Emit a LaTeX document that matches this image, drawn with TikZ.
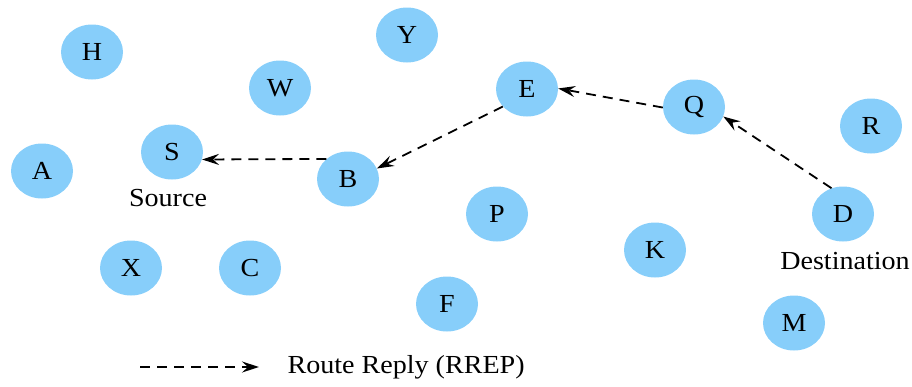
\documentclass[tikz,border=0pt]{standalone}
\usepackage{fontspec}
\setmainfont{Liberation Serif}[FakeStretch=1.08]
\usepackage{xcolor}
\usetikzlibrary{shapes.geometric,arrows.meta}
\definecolor{hostblue}{RGB}{135,206,250}

\begin{document}
\begin{tikzpicture}[x=1pt, y=-1pt,
    host/.style={ellipse, fill=hostblue, minimum width=62pt, minimum height=55pt, inner sep=0pt, font=\fontsize{26}{30}\selectfont},
    rrep/.style={line width=1.8pt, dash pattern=on 10pt off 7pt, -{Stealth[length=17pt, width=11pt, inset=6pt]}},
    lbl/.style={font=\fontsize{26}{30}\selectfont}]
\useasboundingbox (0,0) rectangle (912,386);

% Mobile hosts
\node[host] (H) at (92,52) {H};
\node[host] (Y) at (407,35) {Y};
\node[host] (W) at (280,88) {W};
\node[host] (E) at (527,89) {E};
\node[host] (Q) at (694,107) {Q};
\node[host] (R) at (871,126) {R};
\node[host] (A) at (42,171) {A};
\node[host] (S) at (172,152) {S};
\node[host] (B) at (348,179) {B};
\node[host] (P) at (497,214) {P};
\node[host] (D) at (843,214) {D};
\node[host] (X) at (131,268) {X};
\node[host] (C) at (250,268) {C};
\node[host] (K) at (655,250) {K};
\node[host] (F) at (447,304) {F};
\node[host] (M) at (794,323) {M};

% Source and destination labels
\node[lbl] (srclbl) at (168,198) {Source};
\node[lbl] (dstlbl) at (845,261) {Destination};

% Reply path D -> Q -> E -> B -> S
\draw[rrep] (D.114) -- (Q.-18);
\draw[rrep] (Q.181) -- (E.1);
\draw[rrep] (E.216) -- (B.20);
\draw[rrep] (B.137) -- (S.-14);

% Legend
\coordinate (legA) at (140,367);
\coordinate (legB) at (259,367);
\draw[rrep] (legA) -- (legB);
\node[lbl, anchor=west] (legtxt) at (284,367) {Route Reply (RREP)};
\end{tikzpicture}
\end{document}
